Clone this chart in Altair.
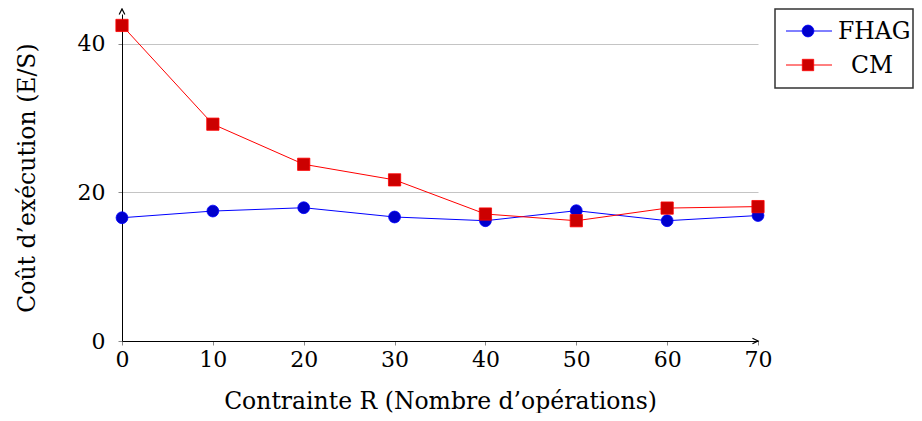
import altair as alt
import pandas as pd

# ---- data ----
contrainte = [0, 10, 20, 30, 40, 50, 60, 70]
fhag = [16.6, 17.5, 17.95, 16.7, 16.2, 17.55, 16.2, 16.9]
cm = [42.5, 29.2, 23.8, 21.7, 17.1, 16.2, 17.9, 18.1]
series_names = ["FHAG", "CM"]
line_colors = ["#0000ff", "#ff0000"]
fill_colors = ["#0000cc", "#cc0000"]
y_ticks = [0, 20, 40]
x_ticks = [0, 10, 20, 30, 40, 50, 60, 70]

W, H = 636, 327
Y_MAX = 44.04
FONT = "DejaVu Serif"
PAD_L, PAD_T = 114, 6
PAD_R = 906 - PAD_L - W
PAD_B = 405 - PAD_T - H

df = pd.DataFrame({
    "R": contrainte * 2,
    "cost": fhag + cm,
    "serie": ["FHAG"] * len(contrainte) + ["CM"] * len(contrainte),
})

x = alt.X("R:Q", scale=alt.Scale(domain=[0, 70], nice=False),
          axis=alt.Axis(values=x_ticks, title="Contrainte R (Nombre d’opérations)",
                        grid=False, domainColor="black", tickColor="#888",
                        tickSize=4, labelPadding=4, titlePadding=19, format="d",
                        labelFlush=False))
y = alt.Y("cost:Q", scale=alt.Scale(domain=[0, Y_MAX], nice=False),
          axis=alt.Axis(values=y_ticks, title="Coût d’exécution (E/S)",
                        grid=True, gridColor="#c4c4c4", domainColor="black",
                        tickColor="#888", tickSize=4, labelPadding=13,
                        titlePadding=38, format="d", labelFlush=False))

base = alt.Chart(df)
lines = base.mark_line(strokeWidth=1).encode(
    x=x, y=y,
    color=alt.Color("serie:N", scale=alt.Scale(domain=series_names, range=line_colors), legend=None),
    detail="serie:N",
)
pts_f = alt.Chart(df[df.serie == "FHAG"]).mark_point(
    shape="circle", filled=True, size=140, color=fill_colors[0], opacity=1,
    stroke=line_colors[0], strokeWidth=0.8).encode(x="R:Q", y="cost:Q")
pts_c = alt.Chart(df[df.serie == "CM"]).mark_point(
    shape="square", filled=True, size=150, color=fill_colors[1], opacity=1,
    stroke=line_colors[1], strokeWidth=0.8).encode(x="R:Q", y="cost:Q")

one = pd.DataFrame({"a": [0]})
arrow_x = alt.Chart(one).mark_point(
    shape="M-1,-0.8L0.6,0L-1,0.8", filled=False, stroke="black", strokeWidth=1.2,
    size=50, opacity=1).encode(x=alt.value(W - 2), y=alt.value(H))
arrow_y = alt.Chart(one).mark_point(
    shape="M-0.8,1L0,-0.6L0.8,1", filled=False, stroke="black", strokeWidth=1.2,
    size=50, opacity=1).encode(x=alt.value(0), y=alt.value(-3))

# ---- manual legend ----
LX = W + 17
box = alt.Chart(one).mark_rect(fill="white", stroke="#333", strokeWidth=1.5, clip=False).encode(
    x=alt.value(LX), x2=alt.value(LX + 138), y=alt.value(-5), y2=alt.value(74))
leg_rows = []
row_y = [17, 51]
text_x = [LX + 63, LX + 97]
aligns = ["left", "center"]
for i, name in enumerate(series_names):
    d = pd.DataFrame({"serie": [name]})
    leg_rows.append(alt.Chart(d).mark_rule(color=line_colors[i], strokeWidth=1).encode(
        x=alt.value(LX + 11), x2=alt.value(LX + 57), y=alt.value(row_y[i])))
    leg_rows.append(alt.Chart(d).mark_point(
        shape="circle" if i == 0 else "square", filled=True, size=140 if i == 0 else 130,
        color=fill_colors[i], stroke=line_colors[i], strokeWidth=0.8, opacity=1).encode(
        x=alt.value(LX + 33), y=alt.value(row_y[i])))
    leg_rows.append(alt.Chart(d).mark_text(
        font=FONT, fontSize=23.5, align=aligns[i], baseline="middle", color="black").encode(
        x=alt.value(text_x[i]), y=alt.value(row_y[i] + 1), text="serie:N"))

chart = alt.layer(lines, pts_f, pts_c, arrow_x, arrow_y, box, *leg_rows).properties(
    width=W, height=H,
    autosize=alt.AutoSizeParams(type="none"),
    padding={"left": PAD_L, "top": PAD_T, "right": PAD_R, "bottom": PAD_B},
).configure_view(stroke=None).configure_axis(
    labelFont=FONT, titleFont=FONT, labelFontSize=22, titleFontSize=23.5,
    labelColor="black", titleColor="black", titleFontWeight="normal",
)

chart.save("out.html", embed_options={"renderer": "svg", "actions": False})
